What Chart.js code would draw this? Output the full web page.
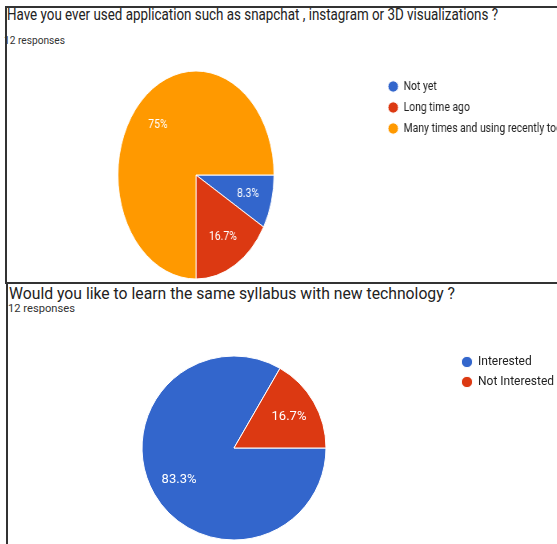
<!DOCTYPE html>
<html>
<head>
<meta charset="utf-8">
<script src="https://cdn.jsdelivr.net/npm/chart.js@4.4.1/dist/chart.umd.min.js"></script>
<style>
    html, body { margin: 0; padding: 0; background: #fff; }
    body { width: 557px; height: 544px; position: relative; overflow: hidden; font-family: Roboto, Arial, sans-serif; }
    .txt { position: absolute; white-space: nowrap; transform-origin: 0 0; }
    .title { font-size: 16px; line-height: 16px; color: #222; }
    .sub { font-size: 11px; line-height: 11px; color: #333; }
    canvas { position: absolute; left: 0; }
    .panel { position: absolute; box-sizing: border-box; border-top: 2px solid #333; border-left: 2px solid #333; }
    #panelA { left: 5px; top: 6px; width: 560px; height: 278px; }
    #panelB { left: 6px; top: 282px; width: 560px; height: 270px; }
</style>
</head>
<body>
    <span id="titleA" class="txt title" style="left:7px; top:7px;">Have you ever used application such as snapchat , instagram or 3D visualizations ?</span>
    <span id="subA" class="txt sub" style="left:4px; top:34.5px;">12 responses</span>
    <!-- drawn 800 wide, shown 640 wide: the screenshot is squeezed sideways -->
    <canvas id="chartA" width="800" height="222" style="top:60px; width:640px; height:222px;"></canvas>

    <span id="titleB" class="txt title" style="left:9px; top:286px;">Would you like to learn the same syllabus with new technology ?</span>
    <span id="subB" class="txt sub" style="left:8px; top:302.5px;">12 responses</span>
    <canvas id="chartB" width="650" height="208" style="top:340px; width:650px; height:208px;"></canvas>

    <div id="panelA" class="panel"></div>
    <div id="panelB" class="panel"></div>

<script>
// question 1
const q1Labels = ['Not yet', 'Long time ago', 'Many times and using recently too'];
const q1Counts = [1, 2, 9];
const q1Colors = ['#3366CC', '#DC3912', '#FF9900'];

// question 2
const q2Labels = ['Interested', 'Not Interested'];
const q2Counts = [10, 2];
const q2Colors = ['#3366CC', '#DC3912'];

// the first pie is an ellipse in the screenshot
const squashPlugin = {
    id: 'squash',
    beforeDatasetsDraw(chart, args, opts) {
        const arc = chart.getDatasetMeta(0).data[0];
        const ctx = chart.ctx;
        ctx.save();
        ctx.translate(arc.x, arc.y);
        ctx.scale(opts.sx || 1, 1);
        ctx.translate(-arc.x, -arc.y);
    },
    afterDatasetsDraw(chart) {
        chart.ctx.restore();
    }
};

// percentage text inside the slices
const pctLabels = {
    id: 'pctLabels',
    afterDraw(chart, args, opts) {
        const ctx = chart.ctx;
        const values = chart.data.datasets[0].data;
        const total = values.reduce((a, b) => a + b, 0);
        const sx = opts.sx || 1;
        chart.getDatasetMeta(0).data.forEach((arc, i) => {
            const p = arc.getProps(['x', 'y', 'startAngle', 'endAngle', 'outerRadius'], true);
            const mid = (p.startAngle + p.endAngle) / 2;
            const r = p.outerRadius * opts.dist;
            const text = +(values[i] * 100 / total).toFixed(1) + '%';
            ctx.save();
            ctx.fillStyle = '#fff';
            ctx.font = opts.labelFont;
            ctx.textAlign = 'center';
            ctx.textBaseline = 'middle';
            ctx.fillText(text, p.x + Math.cos(mid) * r * sx, p.y + Math.sin(mid) * r);
            ctx.restore();
        });
    }
};

function fitText(id, w) {
    const el = document.getElementById(id);
    el.style.transform = `scaleX(${w / el.getBoundingClientRect().width})`;
}
fitText('titleA', 491);
fitText('subA', 61);
fitText('titleB', 446);
fitText('subB', 67);

// put the legend's left edge at x, the long labels run off the page
function pinLegend(chart, x) {
    chart.config.options.layout.padding.right = chart.width - x - chart.legend.width;
    chart.update();
}

const chartA = new Chart(document.getElementById('chartA'), {
    type: 'pie',
    data: {
        labels: q1Labels,
        datasets: [{
            data: q1Counts,
            backgroundColor: q1Colors,
            borderColor: '#fff',
            borderWidth: 1,
            rotation: 90,
            radius: 104,
            clip: false
        }]
    },
    options: {
        responsive: false,
        animation: false,
        layout: { padding: { left: 13, right: 0, top: 12, bottom: 4 } },
        plugins: {
            legend: {
                position: 'right',
                align: 'start',
                labels: {
                    usePointStyle: true,
                    pointStyle: 'circle',
                    pointStyleWidth: 13,
                    boxHeight: 8,
                    padding: 8,
                    color: '#222',
                    font: { family: 'Roboto', size: 13 }
                }
            },
            tooltip: { enabled: false },
            squash: { sx: 0.9375 },
            pctLabels: { dist: 0.69, sx: 0.9375, labelFont: '13px Roboto' }
        }
    },
    plugins: [squashPlugin, pctLabels]
});
pinLegend(chartA, 477);

const chartB = new Chart(document.getElementById('chartB'), {
    type: 'pie',
    data: {
        labels: q2Labels,
        datasets: [{
            data: q2Counts,
            backgroundColor: q2Colors,
            borderColor: '#fff',
            borderWidth: 1,
            rotation: 90,
            radius: 92,
            clip: false
        }]
    },
    options: {
        responsive: false,
        animation: false,
        layout: { padding: { left: 14, right: 0, top: 8, bottom: 0 } },
        plugins: {
            legend: {
                position: 'right',
                align: 'start',
                labels: {
                    usePointStyle: true,
                    pointStyle: 'circle',
                    boxWidth: 10,
                    boxHeight: 8,
                    padding: 8,
                    color: '#222',
                    font: { family: 'Roboto', size: 12 }
                }
            },
            tooltip: { enabled: false },
            pctLabels: { dist: 0.69, sx: 1, labelFont: '13px Roboto' }
        }
    },
    plugins: [pctLabels]
});
pinLegend(chartB, 454);
</script>
</body>
</html>
